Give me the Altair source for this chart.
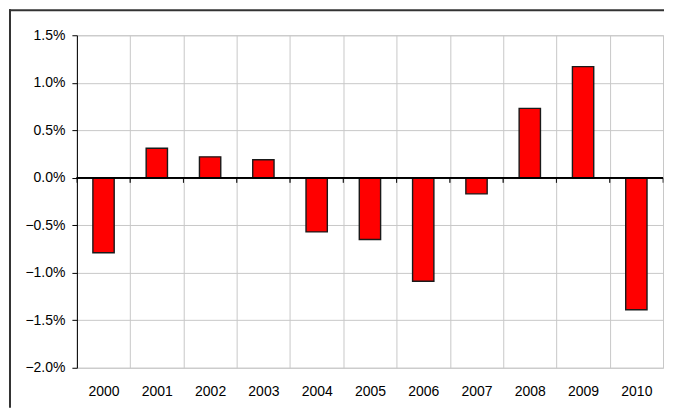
import altair as alt
import pandas as pd

years = ["2000", "2001", "2002", "2003", "2004", "2005", "2006", "2007", "2008", "2009", "2010"]
values = [-0.79, 0.31, 0.22, 0.19, -0.57, -0.65, -1.09, -0.17, 0.73, 1.17, -1.39]
y_ticks = [-2.0, -1.5, -1.0, -0.5, 0.0, 0.5, 1.0, 1.5]

df = pd.DataFrame({"year": years, "value": values})

W, H = 587, 333
FONT = "Liberation Sans"

x_enc = alt.X(
    "year:O",
    sort=years,
    scale=alt.Scale(paddingInner=0, paddingOuter=0),
    axis=alt.Axis(
        title=None, labelAngle=0, tickBand="extent", grid=True, ticks=False,
        domain=False, labelPadding=17, labelFontSize=14, labelFont=FONT,
        labelColor="#000", gridColor="#c8c8c8",
    ),
)
y_scale = alt.Scale(domain=[-2.0, 1.5], nice=False, zero=False)
y_enc = alt.Y(
    "value:Q",
    scale=y_scale,
    axis=alt.Axis(
        title=None, values=y_ticks, labelExpr="format(datum.value, '.1f') + '%'",
        domainColor="#000", tickColor="#000", tickSize=5, labelPadding=7,
        labelFontSize=14, labelFont=FONT, labelColor="#000", gridColor="#c8c8c8",
    ),
)

base = alt.Chart(df)

bars = base.mark_bar(
    width=alt.RelativeBandSize(0.4), color="#ff0000", stroke="#1a1a1a", strokeWidth=1.4
).encode(x=x_enc, y=y_enc)

zero = base.mark_rule(color="#000", strokeWidth=1).encode(y=alt.datum(0))

ticks_left = base.mark_tick(
    orient="vertical", size=5, thickness=1, color="#000", yOffset=2.5
).encode(x=alt.X("year:O", sort=years, bandPosition=0), y=alt.datum(0))
ticks_right = base.mark_tick(
    orient="vertical", size=5, thickness=1, color="#000", yOffset=2.5
).encode(x=alt.X("year:O", sort=years, bandPosition=1), y=alt.datum(0))

one = alt.Chart(pd.DataFrame({"a": [0]}))
frame_left = one.mark_rule(color="#333333", strokeWidth=2).encode(
    x=alt.value(-67), y=alt.value(-26), y2=alt.value(H + 40)
)
frame_top = one.mark_rule(color="#333333", strokeWidth=2).encode(
    x=alt.value(-68), x2=alt.value(W + 1), y=alt.value(-25)
)

chart = alt.layer(bars, zero, ticks_left, ticks_right, frame_left, frame_top).properties(
    width=W, height=H, padding=0
).configure_view(stroke="#c8c8c8")

chart.save("out.html", embed_options={"renderer": "svg", "actions": False})
